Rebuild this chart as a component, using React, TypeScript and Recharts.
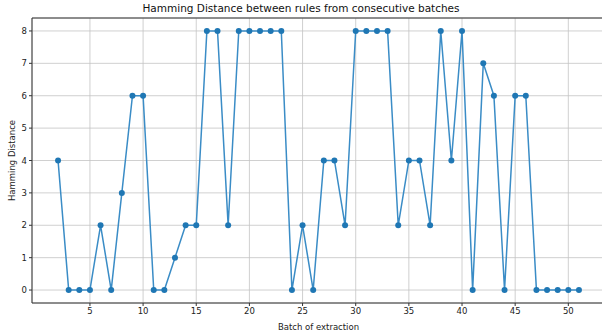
import { LineChart, Line, XAxis, YAxis, CartesianGrid, ReferenceLine } from 'recharts'

const batches = [
  2, 3, 4, 5, 6, 7, 8, 9, 10, 11, 12, 13, 14, 15, 16, 17, 18, 19, 20, 21, 22, 23, 24, 25, 26,
  27, 28, 29, 30, 31, 32, 33, 34, 35, 36, 37, 38, 39, 40, 41, 42, 43, 44, 45, 46, 47, 48, 49, 50, 51,
]
const distances = [
  4, 0, 0, 0, 2, 0, 3, 6, 6, 0, 0, 1, 2, 2, 8, 8, 2, 8, 8, 8, 8, 8, 0, 2, 0,
  4, 4, 2, 8, 8, 8, 8, 2, 4, 4, 2, 8, 4, 8, 0, 7, 6, 0, 6, 6, 0, 0, 0, 0, 0,
]
const xTicks = [5, 10, 15, 20, 25, 30, 35, 40, 45, 50]
const yTicks = [0, 1, 2, 3, 4, 5, 6, 7, 8]

const data = batches.map((b, i) => ({ batch: b, distance: distances[i] }))

const font = 'DejaVu Sans, sans-serif'
const tickStyle = { fontSize: 8.5, fill: '#222', fontFamily: font }

export default function App() {
  return (
    <div style={{ position: 'absolute', left: 0, top: 0, width: 602, height: 332, overflow: 'hidden', background: '#fff' }}>
      <div style={{ position: 'absolute', top: 2, left: 0, width: 602, textAlign: 'center', fontFamily: font, fontSize: 10.5, color: '#111' }}>
        Hamming Distance between rules from consecutive batches
      </div>
      <LineChart width={605} height={332} data={data} margin={{ top: 18, right: 0, bottom: 0, left: 0 }}>
        <CartesianGrid stroke="#c4c4c4" strokeWidth={0.8} />
        <XAxis
          dataKey="batch"
          type="number"
          domain={[-0.45, 53.45]}
          ticks={xTicks}
          allowDataOverflow
          height={29}
          tick={tickStyle}
          tickSize={3}
          tickLine={{ stroke: '#333' }}
          axisLine={{ stroke: '#333' }}
          label={{ value: 'Batch of extraction', position: 'insideBottom', offset: 2, style: { fontSize: 8.5, fill: '#222', fontFamily: font } }}
        />
        <YAxis
          type="number"
          domain={[-0.4, 8.4]}
          ticks={yTicks}
          allowDataOverflow
          width={32}
          tick={tickStyle}
          tickSize={3}
          tickLine={{ stroke: '#333' }}
          axisLine={{ stroke: '#333' }}
          label={{ value: 'Hamming Distance', angle: -90, position: 'insideLeft', offset: 12, style: { fontSize: 8.5, fill: '#222', fontFamily: font, textAnchor: 'middle' } }}
        />
        <ReferenceLine y={8.4} stroke="#333" strokeWidth={1} />
        <Line
          dataKey="distance"
          type="linear"
          stroke="#3a8cc6"
          strokeWidth={1.5}
          dot={{ r: 3, fill: '#1f77b4', stroke: '#1f77b4', strokeWidth: 0 }}
          isAnimationActive={false}
        />
      </LineChart>
    </div>
  )
}
